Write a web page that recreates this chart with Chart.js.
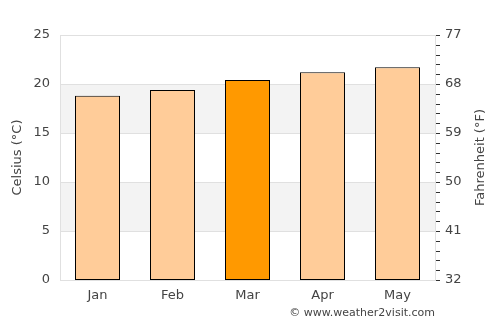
<!DOCTYPE html>
<html><head><meta charset="utf-8">
<script src="https://cdn.jsdelivr.net/npm/chart.js@4"></script>
<style>html,body{margin:0;padding:0;background:#fff}#w{width:500px;height:325px;position:relative}</style>
</head><body><div id="w"><canvas id="c" width="500" height="325"></canvas></div>
<script>
const categories = ["Jan","Feb","Mar","Apr","May"];
const celsius = [18.8, 19.4, 20.4, 21.2, 21.7];
const barColors = ["#ffcc99","#ffcc99","#ff9900","#ffcc99","#ffcc99"];
const celsiusTicks = [0,5,10,15,20,25];
const fahrenheitTicks = [32,41,50,59,68,77];
const FONT = "'DejaVu Sans', sans-serif";

const bands = {
  id:'bands',
  beforeDatasetsDraw(chart){
    const {ctx, chartArea:a, scales:{y}} = chart;
    ctx.save();
    ctx.fillStyle = '#f3f3f3';
    [[5,10],[15,20]].forEach(([lo,hi])=>{
      const t = y.getPixelForValue(hi), b = y.getPixelForValue(lo);
      ctx.fillRect(a.left, t, a.right-a.left, b-t);
    });
    ctx.strokeStyle = '#e0e0e0'; ctx.lineWidth = 1;
    celsiusTicks.forEach(v=>{
      const p = Math.round(y.getPixelForValue(v))+0.5;
      ctx.beginPath(); ctx.moveTo(a.left,p); ctx.lineTo(a.right,p); ctx.stroke();
    });
    ctx.beginPath(); ctx.moveTo(a.left+0.5,a.top); ctx.lineTo(a.left+0.5,a.bottom); ctx.stroke();
    ctx.beginPath(); ctx.moveTo(a.right+0.5,a.top); ctx.lineTo(a.right+0.5,a.bottom); ctx.stroke();
    ctx.restore();
  },
  afterDraw(chart){
    const {ctx, chartArea:a, scales:{y}} = chart;
    ctx.save();
    ctx.strokeStyle = '#333'; ctx.lineWidth = 1;
    for(let v=0; v<=25; v++){
      const p = Math.round(y.getPixelForValue(v))+0.5;
      ctx.beginPath(); ctx.moveTo(a.right+1,p); ctx.lineTo(a.right+5,p); ctx.stroke();
    }
    ctx.fillStyle = '#444';
    ctx.font = "13px " + FONT;
    ctx.textAlign = 'center'; ctx.textBaseline = 'middle';
    const mid = (a.top + a.bottom)/2;
    [['Celsius (°C)', 18], ['Fahrenheit (°F)', 481]].forEach(([t,x])=>{
      ctx.save(); ctx.translate(x, mid); ctx.rotate(-Math.PI/2); ctx.fillText(t,0,0); ctx.restore();
    });
    ctx.font = "11px " + FONT;
    ctx.textAlign = 'right';
    ctx.fillText('© www.weather2visit.com', a.right, 313);
    ctx.restore();
  }
};

new Chart(document.getElementById('c'), {
  type:'bar',
  data:{labels:categories, datasets:[{data:celsius, backgroundColor:barColors, borderColor:'#000', borderWidth:1, borderSkipped:false, categoryPercentage:1, barPercentage:0.6}]},
  options:{
    responsive:false, animation:false, devicePixelRatio:1,
    layout:{padding:{top:35, bottom:20, left:0, right:0}},
    plugins:{legend:{display:false}, tooltip:{enabled:false}},
    scales:{
      x:{afterFit(s){s.height=25;}, grid:{display:false, drawTicks:false}, border:{color:'#ddd'}, ticks:{color:'#444', font:{family:FONT,size:13}, padding:8}},
      y:{min:0, max:25, position:'left', afterFit(s){s.width=60;},
         grid:{display:false, drawTicks:false}, border:{display:false},
         ticks:{stepSize:5, color:'#444', font:{family:FONT,size:13}, padding:10}},
      y2:{min:0, max:25, position:'right', afterFit(s){s.width=65;},
         grid:{display:false, drawTicks:false}, border:{display:false},
         ticks:{stepSize:5, color:'#444', font:{family:FONT,size:13}, padding:10, callback:(v)=>fahrenheitTicks[celsiusTicks.indexOf(v)]}}
    }
  },
  plugins:[bands]
});
</script></body></html>
